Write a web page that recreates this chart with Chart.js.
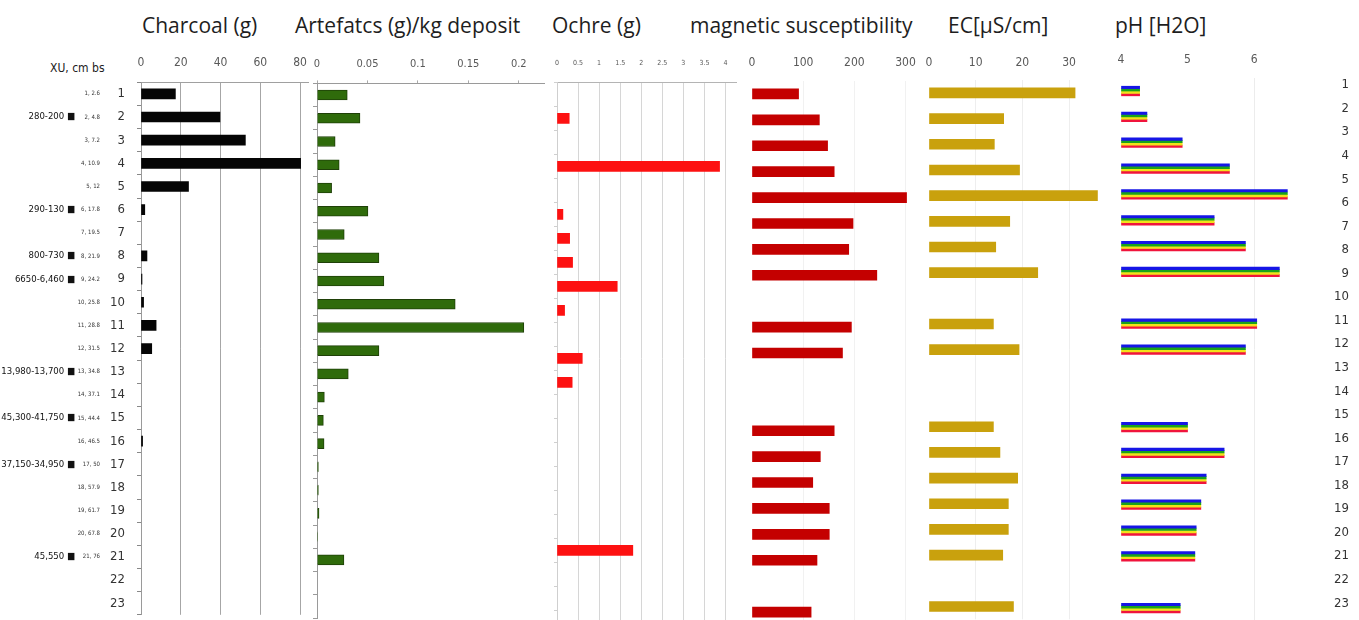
<!DOCTYPE html>
<html>
<head>
<meta charset="utf-8">
<title>Excavation profile</title>
<script src="https://cdn.jsdelivr.net/npm/chart.js@4.4.1/dist/chart.umd.min.js"></script>
<style>
  html, body { margin: 0; padding: 0; background: #fff; }
  body { position: relative; width: 1359px; height: 620px; overflow: hidden; }
  .panel { position: absolute; top: 0; height: 650px; }
  .title { position: absolute; top: 11px; font: 21px/28px "Open Sans", sans-serif; color: #1e1e1e; white-space: nowrap; }
  .note { position: absolute; font: 12px/14px "Liberation Sans Narrow", "DejaVu Sans Condensed", sans-serif; color: #222; }
</style>
</head>
<body>
<div class="title" style="left:142px">Charcoal (g)</div>
<div class="title" style="left:295px">Artefatcs (g)/kg deposit</div>
<div class="title" style="left:552px">Ochre (g)</div>
<div class="title" style="left:690px">magnetic susceptibility</div>
<div class="title" style="left:948px">EC[µS/cm]</div>
<div class="title" style="left:1115px">pH [H2O]</div>
<div class="note" style="left:50px;top:61px">XU, cm bs</div>

<div class="panel" style="left:0px;width:322px"><canvas id="charcoal"></canvas></div>
<div class="panel" style="left:293px;width:265px"><canvas id="artefacts"></canvas></div>
<div class="panel" style="left:533px;width:217px"><canvas id="ochre"></canvas></div>
<div class="panel" style="left:728px;width:212px"><canvas id="magsus"></canvas></div>
<div class="panel" style="left:905px;width:213px"><canvas id="ec"></canvas></div>
<div class="panel" style="left:1097px;width:211px"><canvas id="ph"></canvas></div>
<div class="panel" style="left:1300px;width:49px"><canvas id="rows"></canvas></div>

<script>
// ── Data ──────────────────────────────────────────────────
const rowLabels = ["1", "2", "3", "4", "5", "6", "7", "8", "9", "10", "11", "12",
  "13", "14", "15", "16", "17", "18", "19", "20", "21", "22", "23"];
const depthLabels = ["1, 2.6", "2, 4.8", "3, 7.2", "4, 10.9", "5, 12", "6, 17.8",
  "7, 19.5", "8, 21.9", "9, 24.2", "10, 25.8", "11, 28.8", "12, 31.5", "13, 34.8",
  "14, 37.1", "15, 44.4", "16, 46.5", "17, 50", "18, 57.9", "19, 61.7", "20, 67.8",
  "21, 76", "", ""];
const dateLabels = ["", "280-200 ■", "", "", "", "290-130 ■", "", "800-730 ■",
  "6650-6,460 ■", "", "", "", "13,980-13,700 ■", "", "45,300-41,750 ■", "",
  "37,150-34,950 ■", "", "", "", "45,550 ■", "", ""];

const charcoal = [17.3, 39.7, 52.5, 80.3, 23.9, 1.9, null, 3.0, 0.5, 1.3, 7.6, 5.4,
  null, null, null, 0.8, null, null, null, null, null, null, null];
const artefacts = [0.030, 0.0426, 0.018, 0.022, 0.0145, 0.0505, 0.027, 0.0614, 0.0663,
  0.137, 0.205, 0.0614, 0.031, 0.0073, 0.0063, 0.007, 0.0013, 0.0013, 0.002, 0.0005,
  0.0267, null, null];
// the ochre column of the composite figure sits on its own, slightly taller row grid
const ochre = [null, 0.29, null, 3.86, null, 0.14, 0.30, 0.37, 1.43, 0.18, null, 0.60,
  0.36, null, null, null, null, null, null, 1.8, null, null, null];

// soil columns (magnetic susceptibility, EC, pH) use 21 sampling slots
const soilSlots = ["1", "2", "3", "4", "5", "6", "7", "8", "9", "10", "11", "12", "13",
  "14", "15", "16", "17", "18", "19", "20", "21"];
const magSus = [91, 131.6, 147.7, 160.6, 302, 197.4, 189, 243.9, null, 194.2, 176.8,
  null, null, 160.6, 133.5, 118.7, 151, 151, 127, null, 115.5];
const ecValues = [31.3, 16.0, 14.0, 19.4, 36.1, 17.3, 14.3, 23.3, null, 13.8, 19.3,
  null, null, 13.8, 15.2, 19.0, 17.0, 17.0, 15.8, null, 18.1];
const phValues = [4.28, 4.39, 4.92, 5.63, 6.50, 5.40, 5.87, 6.38, null, 6.04, 5.87,
  null, null, 5.00, 5.55, 5.28, 5.20, 5.13, 5.11, null, 4.89];

// ── Defaults ──────────────────────────────────────────────
const NARROW = '"Liberation Sans Narrow", "DejaVu Sans Condensed", sans-serif';
Chart.defaults.font.family = NARROW;
Chart.defaults.color = "#595959";
Chart.defaults.animation = false;
Chart.defaults.responsive = true;
Chart.defaults.maintainAspectRatio = false;
Chart.defaults.plugins.legend.display = false;
Chart.defaults.plugins.tooltip.enabled = false;

const fixHeight = (h) => (scale) => { scale.height = h; };
const fixWidth = (w) => (scale) => { scale.width = w; };
const plainNumber = (v) => String(Number(v.toFixed(3)));
const skipZero = (color) => (ctx) => (ctx.tick && ctx.tick.value > 0 ? color : "rgba(0,0,0,0)");

// ── Axis factories ────────────────────────────────────────
function valueAxis(o) {
  return {
    type: "linear",
    position: "top",
    min: o.min,
    max: o.max,
    afterFit: fixHeight(26),
    border: { display: !!o.border, color: o.border || "rgba(0,0,0,0)" },
    grid: {
      color: o.gridColor || "rgba(0,0,0,0)",
      drawTicks: !!o.tickLen,
      tickLength: o.tickLen || 0,
      tickColor: o.tickColor || "#999",
    },
    ticks: {
      stepSize: o.step,
      includeBounds: false,
      autoSkip: false,
      maxRotation: 0,
      padding: o.pad,
      font: { size: o.size || 12 },
      callback: plainNumber,
    },
  };
}

function markAxis(width, lineColor) {
  return {
    type: "category",
    offset: true,
    afterFit: fixWidth(width),
    border: { display: true, color: lineColor },
    grid: { drawOnChartArea: false, drawTicks: true, tickLength: width, tickColor: lineColor, offset: true },
    ticks: { display: false },
  };
}

const hiddenAxis = { type: "category", display: false, offset: true };

function barSet(data, color, thickness, extra) {
  return Object.assign({ data, backgroundColor: color, barThickness: thickness, borderWidth: 0 }, extra || {});
}

function makeChart(id, labels, datasets, scales, padding) {
  return new Chart(document.getElementById(id), {
    type: "bar",
    data: { labels, datasets },
    options: { indexAxis: "y", layout: { padding }, scales },
  });
}

// ── Charcoal (with the sample / depth / date labels) ──────
makeChart("charcoal", rowLabels, [barSet(charcoal, "#050505", 10)], {
  x: valueAxis({ min: 0, max: 84, step: 20, pad: 12, gridColor: "#a6a6a6", border: "#a0a0a0" }),
  y: {
    type: "category",
    position: "left",
    weight: 0,
    afterFit: fixWidth(39),
    border: { display: true, color: "#9a9a9a" },
    grid: { drawOnChartArea: false, drawTicks: true, tickLength: 4, tickColor: "#888", offset: true },
    ticks: { padding: 12, autoSkip: false, color: "#333", font: { size: 13 } },
  },
  yDepth: {
    type: "category",
    labels: depthLabels,
    offset: true,
    position: "left",
    weight: 1,
    afterFit: fixWidth(25),
    border: { display: false },
    grid: { display: false, drawTicks: false },
    ticks: { padding: 2, autoSkip: false, color: "#333", font: { size: 6 } },
  },
  yDates: {
    type: "category",
    labels: dateLabels,
    offset: true,
    position: "left",
    weight: 2,
    afterFit: fixWidth(77),
    border: { display: false },
    grid: { display: false, drawTicks: false },
    ticks: { padding: 2, autoSkip: false, color: "#111", font: { size: 9.5 } },
  },
}, { left: 0, right: 14, top: 56.3, bottom: 35.2 });

// ── Artefacts ─────────────────────────────────────────────
makeChart("artefacts", rowLabels,
  [barSet(artefacts, "#2f6b0b", 10, { borderWidth: 1, borderColor: "#1f4008" })], {
    x: valueAxis({ min: 0, max: 0.225, step: 0.05, pad: 10, size: 11, tickLen: 3, tickColor: "#aaa", border: "#9a9a9a" }),
    y: markAxis(4, "#9a9a9a"),
  }, { left: 20, right: 14, top: 57.4, bottom: 32 });

// ── Ochre ─────────────────────────────────────────────────
makeChart("ochre", rowLabels, [barSet(ochre, "#fd1111", 10)], {
  x: valueAxis({ min: 0, max: 4.25, step: 0.5, pad: 15, size: 7, gridColor: skipZero("#d6d6d6"), border: "#b4b4b4" }),
  y: markAxis(3, "#cfcfcf"),
}, { left: 21, right: 14, top: 56.3, bottom: 15.7 });

// ── Magnetic susceptibility ───────────────────────────────
makeChart("magsus", soilSlots, [barSet(magSus, "#c40000", 10)], {
  x: valueAxis({ min: 0, max: 340, step: 100, pad: 10.8, gridColor: skipZero("#f1f1f1") }),
  y: hiddenAxis,
}, { left: 24, right: 14, top: 55, bottom: 25 });

// ── EC ────────────────────────────────────────────────────
makeChart("ec", soilSlots, [barSet(ecValues, "#c9a10d", 10)], {
  x: valueAxis({ min: 0, max: 37.5, step: 10, pad: 10, gridColor: skipZero("#eeeeee") }),
  y: hiddenAxis,
}, { left: 24, right: 14, top: 54.1, bottom: 30.7 });

// ── pH: one bar drawn as four coloured stripes ────────────
const phStripes = ["#1616e6", "#1aa31a", "#f2e21a", "#f0143c"];
makeChart("ph", soilSlots, phStripes.map((c) => barSet(phValues, c, 2.4, { base: 4 })), {
  x: valueAxis({ min: 4, max: 6.6, step: 1, pad: 11, gridColor: (ctx) => (ctx.tick && ctx.tick.value === 6 ? "#ececec" : "rgba(0,0,0,0)") }),
  y: hiddenAxis,
}, { left: 24, right: 14, top: 52.1, bottom: 29 });

// ── Row numbers repeated on the right edge ────────────────
makeChart("rows", rowLabels, [], {
  x: { display: false },
  y: {
    type: "category",
    position: "right",
    offset: true,
    afterFit: fixWidth(40),
    border: { display: false },
    grid: { display: false, drawTicks: false },
    ticks: { crossAlign: "far", padding: 0, autoSkip: false, color: "#333", font: { size: 13 } },
  },
}, { left: 0, right: 0, top: 73.2, bottom: 35 });
</script>
</body>
</html>
